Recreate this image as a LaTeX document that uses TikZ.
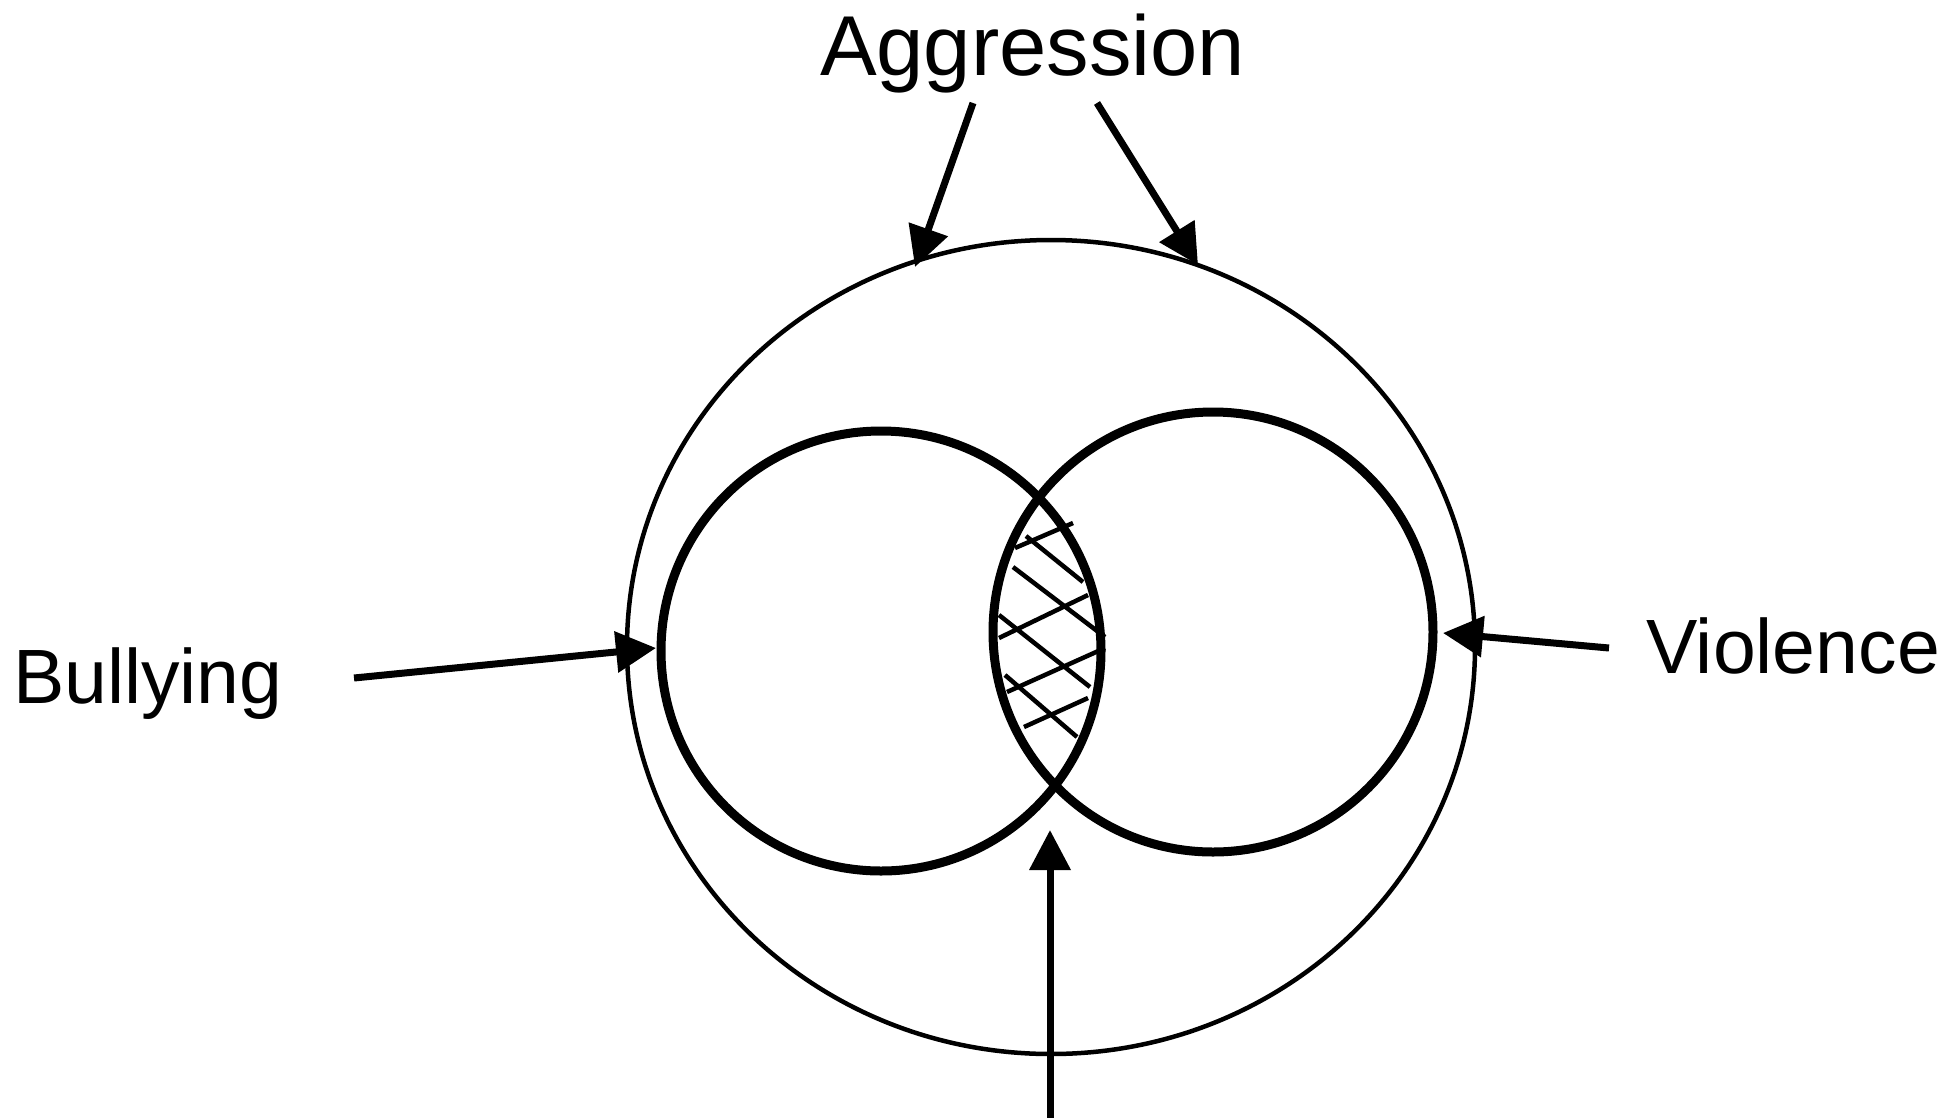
\documentclass[tikz,border=0pt]{standalone}
\usepackage{fontspec}
\setmainfont{Liberation Sans}
\usetikzlibrary{arrows.meta,shapes.geometric}
\begin{document}
\begin{tikzpicture}[x=1pt,y=-1pt,
  lbl/.style={inner sep=0pt, outer sep=0pt, font=\fontsize{77}{90}\selectfont},
  biglbl/.style={inner sep=0pt, outer sep=0pt, font=\fontsize{85}{100}\selectfont},
  thickring/.style={draw, circle, line width=9pt, minimum size=440pt, inner sep=0pt},
  outerring/.style={draw, ellipse, line width=4.5pt, minimum width=848pt, minimum height=814pt, inner sep=0pt},
  arr/.style={line width=7pt, -{Triangle[length=40pt,width=40pt]}},
  hatch/.style={line width=4.5pt}]
\useasboundingbox (0,0) rectangle (1946,1117);

% rings
\node[outerring] (aggr) at (1051,647) {};
\node[thickring] (bull) at (881,651) {};
\node[thickring] (viol) at (1213,632) {};

% labels
\node[biglbl, anchor=base west] (taggr) at (820,75) {Aggression};
\node[lbl, anchor=base west] (tbull) at (13,703) {Bullying};
\node[lbl, anchor=base west] (tviol) at (1646,673) {Violence};

% hatching of the overlap
\draw[hatch] (1015,548) -- (1073,523);
\draw[hatch] (999,638) -- (1088,595);
\draw[hatch] (1007,692) -- (1105,648);
\draw[hatch] (1024,727) -- (1088,698);
\draw[hatch] (1026,536) -- (1083,582);
\draw[hatch] (1013,567) -- (1105,637);
\draw[hatch] (999,615) -- (1090,687);
\draw[hatch] (1005,675) -- (1077,737);

% arrow end points
\coordinate (a1s) at (973,103);
\coordinate (a1e) at (915,267);
\coordinate (a2s) at (1097,103);
\coordinate (a2e) at (1198,265);
\coordinate (bs) at (354,678);
\coordinate (be) at (656,648);
\coordinate (vs) at (1609,648);
\coordinate (ve) at (1443,633);
\coordinate (os) at (1050,1125);
\coordinate (oe) at (1050,830);

\draw[arr] (a1s) -- (a1e);
\draw[arr] (a2s) -- (a2e);
\draw[arr] (bs) -- (be);
\draw[arr] (vs) -- (ve);
\draw[arr] (os) -- (oe);
\end{tikzpicture}
\end{document}
